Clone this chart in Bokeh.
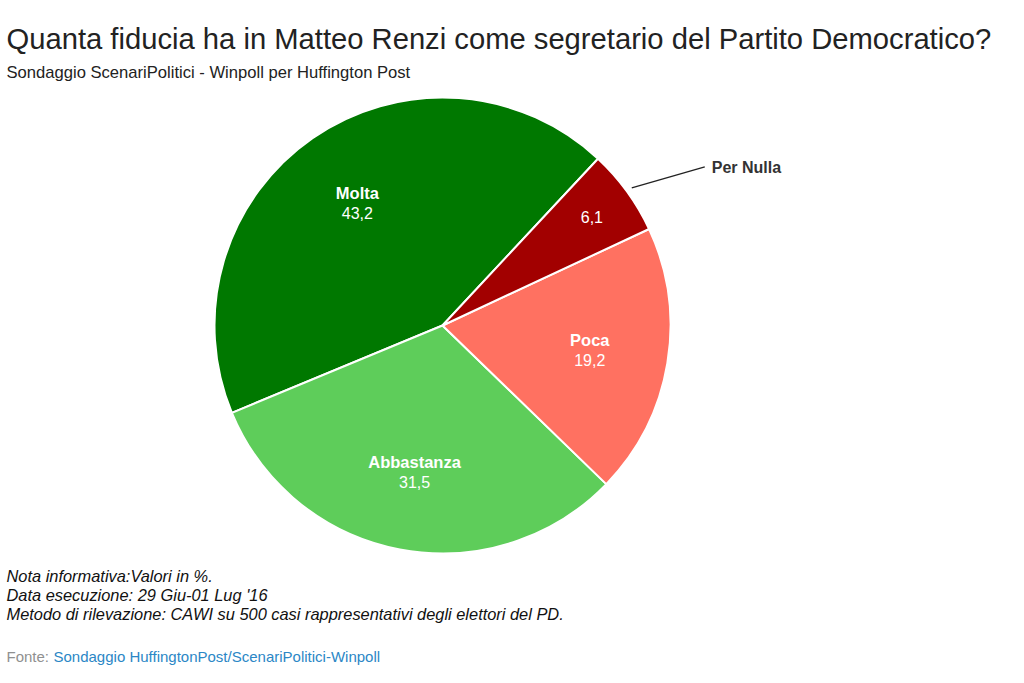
import math
from bokeh.plotting import figure
from bokeh.models import Range1d, ColumnDataSource
from bokeh.core.properties import value
from bokeh.embed import file_html
from bokeh.resources import INLINE

# ---- data ----
categories = ["Molta", "Abbastanza", "Poca", "Per Nulla"]
values = [43.2, 31.5, 19.2, 6.1]
value_labels = ["43,2", "31,5", "19,2", "6,1"]
colors = ["#007800", "#5ecd5a", "#ff7161", "#a20000"]

title_text = "Quanta fiducia ha in Matteo Renzi come segretario del Partito Democratico?"
subtitle_text = "Sondaggio ScenariPolitici - Winpoll per Huffington Post"
notes = [
    "Nota informativa:Valori in %.",
    "Data esecuzione: 29 Giu-01 Lug '16",
    "Metodo di rilevazione: CAWI su 500 casi rappresentativi degli elettori del PD.",
]
source_prefix = "Fonte:"
source_text = "Sondaggio HuffingtonPost/ScenariPolitici-Winpoll"

# ---- layout (reference pixel coordinates) ----
W, H = 1008, 667
FONT = "Liberation Sans"


def Y(py):
    return H - py


p = figure(width=W, height=H,
           x_range=Range1d(0, W),
           y_range=Range1d(0, H),
           x_axis_type=None, y_axis_type=None,
           output_backend="svg", toolbar_location=None, min_border=0)
p.grid.visible = False
p.outline_line_color = None
p.background_fill_color = "white"
p.border_fill_color = "white"

# ---- pie ----
cx, cy, r = 442, Y(325), 228
start0 = math.radians(47.0)
total = sum(values)
starts, ends, mids = [], [], []
acc = 0.0
for v in values:
    s = start0 + 2 * math.pi * acc / total
    acc += v
    e = start0 + 2 * math.pi * acc / total
    starts.append(s)
    ends.append(e)
    mids.append((s + e) / 2)

src = ColumnDataSource(dict(start=starts, end=ends, color=colors))
p.wedge(x=cx, y=cy, radius=r, start_angle="start", end_angle="end",
        fill_color="color", line_color="white", line_width=2, source=src)

# inside labels
inside_frac = [0.655, 0.655, 0.655, 0.81]
show_name_inside = [True, True, True, False]
nx, ny, nt, vx, vy, vt = [], [], [], [], [], []
for i, m in enumerate(mids):
    lx = cx + inside_frac[i] * r * math.cos(m)
    ly = cy + inside_frac[i] * r * math.sin(m)
    if show_name_inside[i]:
        nx.append(lx); ny.append(ly + 10); nt.append(categories[i])
        vx.append(lx); vy.append(ly - 10); vt.append(value_labels[i])
    else:
        vx.append(lx); vy.append(ly); vt.append(value_labels[i])

p.text(x=nx, y=ny, text=nt, text_align="center", text_baseline="middle",
       text_font=value(FONT), text_font_size="16.5px", text_font_style="bold",
       text_color="white")
p.text(x=vx, y=vy, text=vt, text_align="center", text_baseline="middle",
       text_font=value(FONT), text_font_size="16px", text_color="white")

# outside label for Per Nulla with connector
k = 3
m = mids[k]
ex = cx + (r + 6) * math.cos(m)
ey = cy + (r + 6) * math.sin(m)
lab_x = ex + 73
lab_y = ey + 21
p.line(x=[ex, lab_x], y=[ey, lab_y], line_color="#222222", line_width=1.3)
p.text(x=[lab_x + 7], y=[lab_y - 1], text=[categories[k]], text_align="left",
       text_baseline="middle", text_font=value(FONT), text_font_size="16px",
       text_font_style="bold", text_color="#333333")

# ---- titles ----
p.text(x=[6], y=[Y(38)], text=[title_text], text_align="left",
       text_baseline="alphabetic", text_font=value(FONT), text_font_size="29.2px",
       text_color="#222222")
p.text(x=[6], y=[Y(72)], text=[subtitle_text], text_align="left",
       text_baseline="alphabetic", text_font=value(FONT), text_font_size="16.6px",
       text_color="#222222")

# ---- notes ----
for i, line in enumerate(notes):
    p.text(x=[6], y=[Y(575 + 19 * i)], text=[line], text_align="left",
           text_baseline="alphabetic", text_font=value(FONT),
           text_font_size="16.4px", text_font_style="italic", text_color="#111111")

p.text(x=[6], y=[Y(656)], text=[source_prefix], text_align="left",
       text_baseline="alphabetic", text_font=value(FONT), text_font_size="15px",
       text_color="#909090")
p.text(x=[53], y=[Y(656)], text=[source_text], text_align="left",
       text_baseline="alphabetic", text_font=value(FONT), text_font_size="15px",
       text_color="#2b87c6")

open("out.html", "w").write(file_html(p, INLINE))
